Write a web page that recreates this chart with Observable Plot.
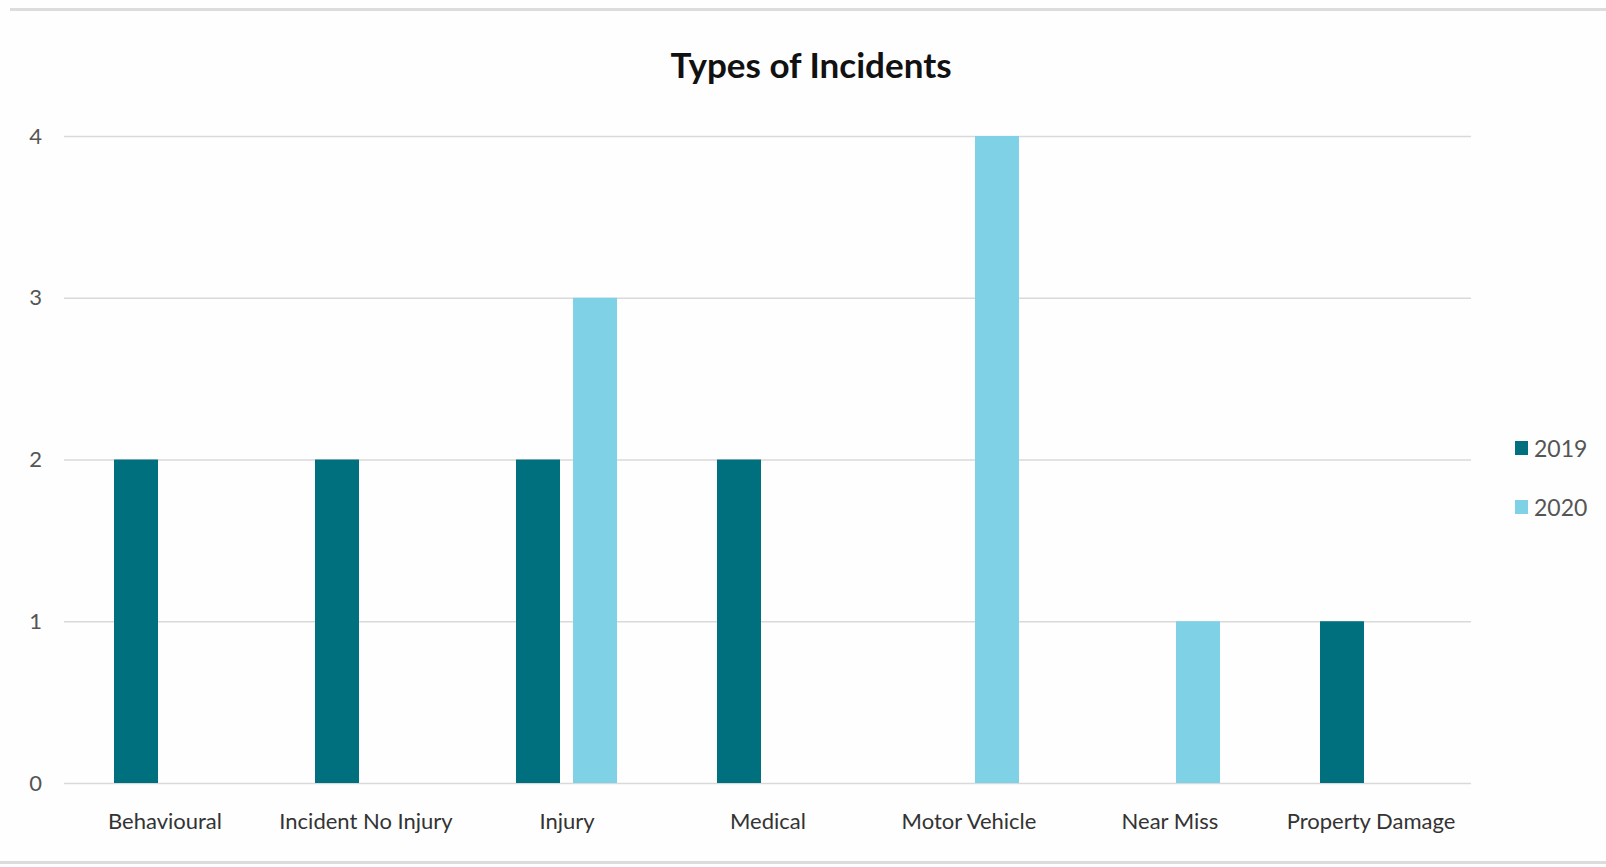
<!DOCTYPE html>
<html>
<head>
<meta charset="utf-8">
<script src="https://cdn.jsdelivr.net/npm/d3@7"></script>
<script src="https://cdn.jsdelivr.net/npm/@observablehq/plot@0.6"></script>
<style>
  html, body { margin: 0; padding: 0; background: #fefefe; }
  #wrap { position: relative; width: 1606px; height: 867px; overflow: hidden; font-family: Lato, "Open Sans", sans-serif; }
  #title { position: absolute; left: 0; width: 1622px; top: 43px; text-align: center; font-weight: bold; font-size: 35px; color: #111; }
  #legend { position: absolute; left: 1515px; top: 436px; font-size: 23px; color: #555; }
  .li { display: flex; align-items: center; height: 24px; margin-bottom: 35px; }
  .sw { width: 13px; height: 14px; margin-right: 6px; }
  .border { position: absolute; left: 10px; right: 0; height: 3px; background: #dcdcdc; }
  #chart { position: absolute; left: 0; top: 0; }
</style>
</head>
<body>
<div id="wrap">
  <div class="border" style="top:8px"></div>
  <div class="border" style="top:861px; left:0"></div>
  <div id="chart"></div>
  <div id="title">Types of Incidents</div>
  <div id="legend"></div>
</div>
<script>
const categories = ["Behavioural", "Incident No Injury", "Injury", "Medical", "Motor Vehicle", "Near Miss", "Property Damage"];
const years = ["2019", "2020"];
const values2019 = [2, 2, 2, 2, 0, 0, 1];
const values2020 = [0, 0, 3, 0, 4, 1, 0];
const colors = ["#00707e", "#7fd1e6"];
const yTicks = [0, 1, 2, 3, 4];

const data = [];
categories.forEach((c, i) => {
  data.push({category: c, year: years[0], value: values2019[i]});
  data.push({category: c, year: years[1], value: values2020[i]});
});

const plot = Plot.plot({
  width: 1606,
  height: 867,
  marginTop: 136,
  marginBottom: 84,
  marginLeft: 62,
  marginRight: 134,
  style: {background: "transparent", fontFamily: "Lato, 'Open Sans', sans-serif", fontSize: "22px", color: "#555"},
  fx: {domain: categories, padding: 0, label: null, axis: null},
  x: {domain: years, paddingInner: 0.22, paddingOuter: 0.85, axis: null},
  y: {domain: [0, 4], ticks: yTicks, label: null},
  color: {domain: years, range: colors},
  marks: [
    Plot.ruleY(yTicks, {stroke: "#d9d9d9", strokeWidth: 1.5}),
    Plot.barY(data.filter(d => d.value > 0), {fx: "category", x: "year", y: "value", fill: "year"}),
    Plot.axisY({ticks: yTicks, tickFormat: "d", tickSize: 0, tickPadding: 0, dx: -29, textAnchor: "middle", fontSize: 22, fill: "#555", label: null, facetAnchor: "left"}),
    Plot.axisFx({anchor: "bottom", tickSize: 0, tickPadding: 30, fontSize: 22, fill: "#333", label: null})
  ]
});
document.getElementById("chart").appendChild(plot);

const legend = document.getElementById("legend");
years.forEach((y, i) => {
  const row = document.createElement("div");
  row.className = "li";
  const sw = document.createElement("div");
  sw.className = "sw";
  sw.style.background = colors[i];
  const t = document.createElement("span");
  t.textContent = y;
  row.appendChild(sw); row.appendChild(t);
  legend.appendChild(row);
});
</script>
</body>
</html>
